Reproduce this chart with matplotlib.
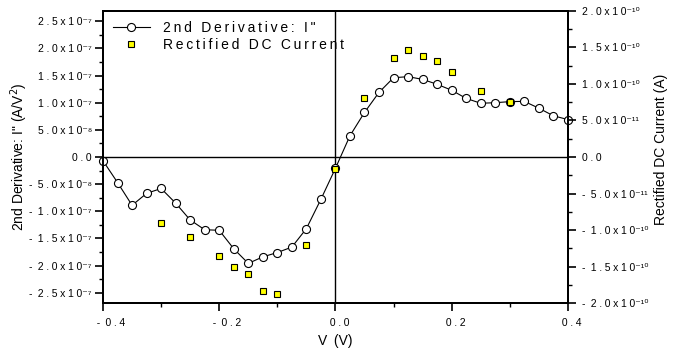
import math
import numpy as np
import matplotlib
matplotlib.use('Agg')
from matplotlib import pyplot as plt
from matplotlib.ticker import MultipleLocator, FuncFormatter

plt.rcParams['font.family'] = ['Liberation Sans', 'DejaVu Sans']

# bias voltage (V)
volts = [-0.4, -0.375, -0.35, -0.325, -0.3, -0.275, -0.25, -0.225, -0.2, -0.175,
         -0.15, -0.125, -0.1, -0.075, -0.05, -0.025, 0.0, 0.025, 0.05, 0.075,
         0.1, 0.125, 0.15, 0.175, 0.2, 0.225, 0.25, 0.275, 0.3, 0.325,
         0.35, 0.375, 0.4]
# second derivative I'' (x1e-7 A/V^2)
d2i = [-0.07, -0.47, -0.89, -0.67, -0.58, -0.85, -1.16, -1.34, -1.35, -1.69,
       -1.96, -1.84, -1.76, -1.66, -1.32, -0.78, -0.21, 0.39, 0.82, 1.19,
       1.46, 1.48, 1.43, 1.34, 1.23, 1.08, 0.99, 1.00, 1.02, 1.025,
       0.90, 0.76, 0.69]

# rectified dc current (x1e-10 A)
volts_dc = [-0.3, -0.25, -0.2, -0.175, -0.15, -0.125, -0.1, -0.05, 0.0,
            0.05, 0.1, 0.125, 0.15, 0.175, 0.2, 0.25, 0.3]
dc = [-0.90, -1.10, -1.35, -1.50, -1.60, -1.83, -1.87, -1.20, -0.16,
      0.81, 1.36, 1.46, 1.39, 1.31, 1.16, 0.91, 0.76]

GAP = '\u2005'
SUPS = str.maketrans('-0123456789', '\u207b\u2070\u00b9\u00b2\u00b3\u2074\u2075\u2076\u2077\u2078\u2079')


def spaced(s, gap=GAP):
    return gap.join(s)


def sci_fmt(v, pos):
    if abs(v) < 1e-20:
        return spaced('0.0')
    e = int(math.floor(math.log10(abs(v)) + 1e-9))
    m = abs(v) / 10 ** e
    s = spaced('%.1fx10' % m) + str(e).translate(SUPS)
    if v < 0:
        s = '-' + GAP * 2 + s
    return s


def x_fmt(v, pos):
    # leading gaps push the visible text a bit right of the tick, like the original
    s = spaced('%.1f' % abs(v))
    if v < -1e-9:
        return GAP * 6 + '-' + GAP * 2 + s
    return GAP * 3 + s


fig = plt.figure(figsize=(6.8, 3.54), dpi=100)
ax = fig.add_axes([0.1515, 0.144, 0.6835, 0.825])

ax.axhline(0, color='black', lw=1.0, zorder=1)
ax.axvline(0, color='black', lw=1.0, zorder=1)

l1, = ax.plot(volts, np.array(d2i) * 1e-7, color='black', lw=0.8, marker='o',
              markersize=5.8, markerfacecolor='white', markeredgecolor='black',
              markeredgewidth=0.8, clip_on=False, zorder=3,
              label=spaced('2nd Derivative: I"', '\u2009'))
ax.set_xlim(-0.4, 0.4)
ax.set_ylim(-2.69e-7, 2.69e-7)

ax2 = ax.twinx()
l2, = ax2.plot(volts_dc, np.array(dc) * 1e-10, linestyle='none', marker='s',
               markersize=5.0, markerfacecolor='#ffff00', markeredgecolor='black',
               markeredgewidth=0.8, clip_on=False, zorder=4,
               label=spaced('Rectified DC Current', '\u2009'))
ax2.set_ylim(-2.0e-10, 2.0e-10)

for a in (ax, ax2):
    for sp in a.spines.values():
        sp.set_linewidth(1.4)

ax.xaxis.set_major_locator(MultipleLocator(0.2))
ax.xaxis.set_minor_locator(MultipleLocator(0.1))
ax.yaxis.set_major_locator(MultipleLocator(5e-8))
ax.yaxis.set_minor_locator(MultipleLocator(2.5e-8))
ax2.yaxis.set_major_locator(MultipleLocator(5e-11))
ax2.yaxis.set_minor_locator(MultipleLocator(2.5e-11))
ax.xaxis.set_major_formatter(FuncFormatter(x_fmt))
ax.yaxis.set_major_formatter(FuncFormatter(sci_fmt))
ax2.yaxis.set_major_formatter(FuncFormatter(sci_fmt))

ax.tick_params(axis='both', which='major', direction='out', length=6, width=1.2,
               labelsize=7.5, pad=2)
ax.tick_params(axis='both', which='minor', direction='out', length=3, width=1.0)
ax.tick_params(axis='x', which='major', pad=5)
ax2.tick_params(axis='y', which='major', direction='out', length=6, width=1.2,
                labelsize=7.5, pad=4)
ax2.tick_params(axis='y', which='minor', direction='out', length=3, width=1.0)

ax.set_xlabel('V\u2009 (V)', fontsize=10, labelpad=4)
ax.set_ylabel('2nd Derivative: I" (A/V$^2$)', fontsize=10)
ax.yaxis.set_label_coords(-0.157, 0.5)
ax2.set_ylabel('Rectified DC Current (A)', fontsize=10)
ax2.yaxis.set_label_coords(1.186, 0.527)

ax2.legend(handles=[l1, l2], loc='upper left', frameon=False, fontsize=10,
           handlelength=2.7, handletextpad=0.9, borderaxespad=0.3,
           labelspacing=0.25, bbox_to_anchor=(0.0, 1.0))

fig.savefig('out.png', dpi=100)
